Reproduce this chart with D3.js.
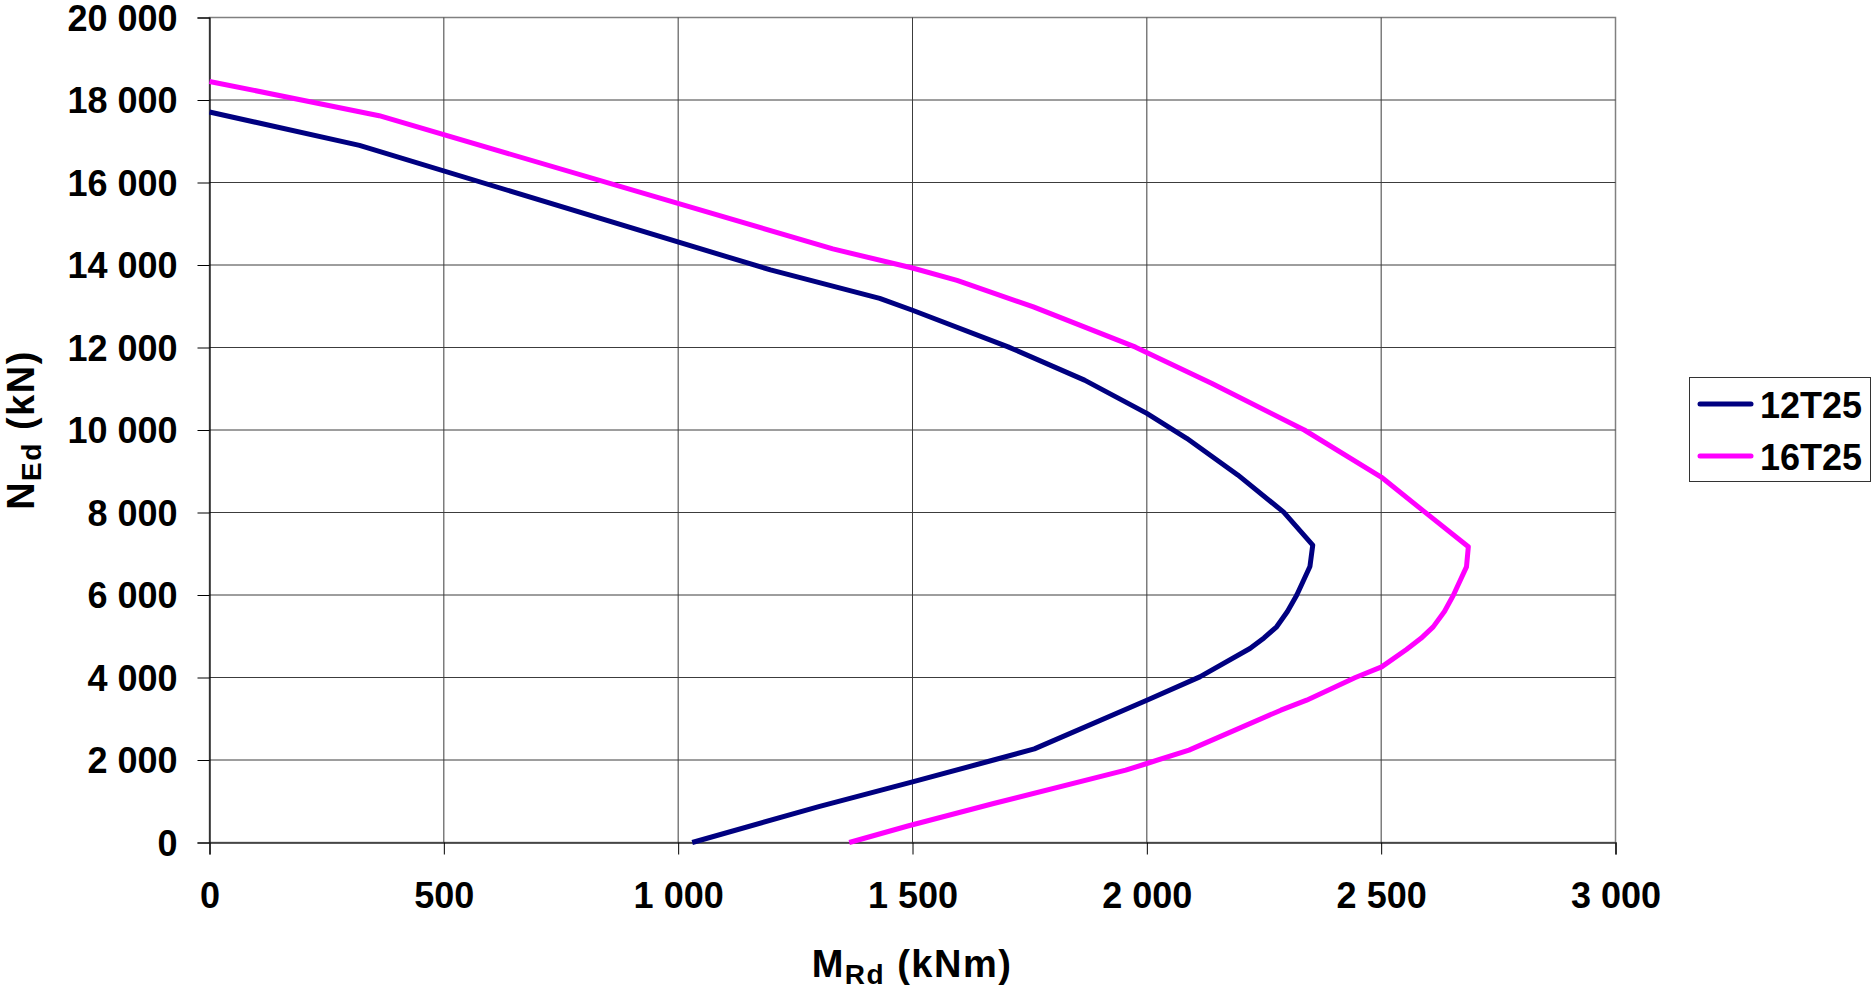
<!DOCTYPE html>
<html>
<head>
<meta charset="utf-8">
<script src="https://cdn.jsdelivr.net/npm/d3@7"></script>
<style>
  html, body { margin: 0; padding: 0; background: #fff; }
  svg { display: block; }
  text { font-family: "Liberation Sans", Arial, sans-serif; font-weight: bold; fill: #000; }
</style>
</head>
<body>
<svg id="chart" width="1872" height="991"></svg>
<script>
// ---- Data (M_Rd in kNm, N_Ed in kN) ----
const seriesNames = ["12T25", "16T25"];
const seriesColors = ["#000080", "#FF00FF"];

const m12T25 = [0, 320, 1197, 1430, 1500, 1704, 1867, 2000, 2085, 2194, 2292, 2354, 2348, 2320, 2300, 2277, 2250, 2220, 2113, 2000, 1760, 1673, 1500, 1300, 1030];
const n12T25 = [17710, 16900, 13880, 13190, 12903, 12016, 11210, 10403, 9798, 8911, 8008, 7210, 6690, 6000, 5600, 5230, 4960, 4703, 4015, 3450, 2270, 2000, 1470, 870, 0];

const m16T25 = [0, 362, 1330, 1500, 1595, 1758, 1976, 2139, 2336, 2500, 2590, 2686, 2682, 2654, 2635, 2611, 2585, 2554, 2501, 2445, 2341, 2286, 2090, 2000, 1955, 1673, 1490, 1365];
const n16T25 = [18450, 17620, 14390, 13927, 13629, 12984, 12008, 11129, 10000, 8860, 8040, 7170, 6681, 5995, 5600, 5227, 4950, 4680, 4257, 4000, 3450, 3208, 2240, 1915, 1754, 945, 400, 0];

const xTicks = [0, 500, 1000, 1500, 2000, 2500, 3000];
const yTicks = [0, 2000, 4000, 6000, 8000, 10000, 12000, 14000, 16000, 18000, 20000];

// ---- Layout ----
const svg = d3.select("#chart");
const pLeft = 209.5, pRight = 1615.5, pTop = 17.5, pBottom = 842.5;

const x = d3.scaleLinear().domain([0, 3000]).range([pLeft, pRight]);
const y = d3.scaleLinear().domain([0, 20000]).range([pBottom, pTop]);

const fmt = v => d3.format(",")(v).replace(/,/g, " ");

svg.append("rect").attr("x", 0).attr("y", 0).attr("width", 1872).attr("height", 991).attr("fill", "#fff");

// plot border
svg.append("rect")
  .attr("x", pLeft).attr("y", pTop).attr("width", pRight - pLeft).attr("height", pBottom - pTop)
  .attr("fill", "none").attr("stroke", "#808080").attr("stroke-width", 1.5);

// gridlines
const grid = svg.append("g");
grid.selectAll("line.h").data(yTicks.filter(d => d > 0 && d < 20000)).enter().append("line")
  .attr("x1", pLeft).attr("x2", pRight)
  .attr("y1", d => y(d)).attr("y2", d => y(d))
  .attr("stroke", "#3c3c3c").attr("stroke-width", 1);
grid.selectAll("line.v").data(xTicks.filter(d => d > 0 && d < 3000)).enter().append("line")
  .attr("y1", pTop).attr("y2", pBottom)
  .attr("x1", d => x(d)).attr("x2", d => x(d))
  .attr("stroke", "#3c3c3c").attr("stroke-width", 1);

// axes
const yAxis = d3.axisLeft(y).tickValues(yTicks).tickSize(12).tickPadding(20).tickFormat(fmt);
const gy = svg.append("g").attr("transform", `translate(${pLeft},0)`).call(yAxis);
gy.select(".domain").attr("stroke", "#000").attr("stroke-width", 1.2);
gy.selectAll(".tick line").attr("stroke", "#000");
gy.selectAll(".tick text")
  .style("font-family", '"Liberation Sans", Arial, sans-serif')
  .style("font-weight", "bold").style("font-size", "36px")
  .attr("dy", "0.36em");

const xAxis = d3.axisBottom(x).tickValues(xTicks).tickSize(12).tickPadding(28).tickFormat(fmt);
const gx = svg.append("g").attr("transform", `translate(0,${pBottom})`).call(xAxis);
gx.select(".domain").attr("stroke", "#333").attr("stroke-width", 1.5);
gx.selectAll(".tick line").attr("stroke", "#000");
gx.selectAll(".tick text")
  .style("font-family", '"Liberation Sans", Arial, sans-serif')
  .style("font-weight", "bold").style("font-size", "36px")
  .attr("dy", "0.71em");

// series
const line = d3.line().x(d => x(d[0])).y(d => y(d[1]));
const series = [
  d3.zip(m12T25, n12T25),
  d3.zip(m16T25, n16T25)
];
series.forEach((pts, i) => {
  svg.append("path").datum(pts)
    .attr("d", line)
    .attr("fill", "none")
    .attr("stroke", seriesColors[i])
    .attr("stroke-width", 5)
    .attr("stroke-linejoin", "round")
    .attr("stroke-linecap", "butt");
});

// axis titles
const xt = svg.append("text").attr("x", 912).attr("y", 977).attr("text-anchor", "middle")
  .style("font-size", "38px").style("letter-spacing", "1.5px");
xt.append("tspan").text("M");
xt.append("tspan").attr("dy", 7).style("font-size", "28px").text("Rd");
xt.append("tspan").attr("dy", -7).text(" (kNm)");

const yt = svg.append("text").attr("transform", "translate(34,430) rotate(-90)").attr("text-anchor", "middle")
  .style("font-size", "38px").style("letter-spacing", "1.5px");
yt.append("tspan").text("N");
yt.append("tspan").attr("dy", 7).style("font-size", "28px").text("Ed");
yt.append("tspan").attr("dy", -7).text(" (kN)");

// legend
const lg = svg.append("g");
lg.append("rect").attr("x", 1689.5).attr("y", 377.5).attr("width", 181).attr("height", 104)
  .attr("fill", "#fff").attr("stroke", "#333").attr("stroke-width", 1);
const legendY = [404, 456];
seriesNames.forEach((name, i) => {
  lg.append("line").attr("x1", 1700).attr("x2", 1751).attr("y1", legendY[i]).attr("y2", legendY[i])
    .attr("stroke", seriesColors[i]).attr("stroke-width", 5).attr("stroke-linecap", "round");
  lg.append("text").attr("x", 1760).attr("y", legendY[i] + 14).style("font-size", "36px").text(name);
});
</script>
</body>
</html>
